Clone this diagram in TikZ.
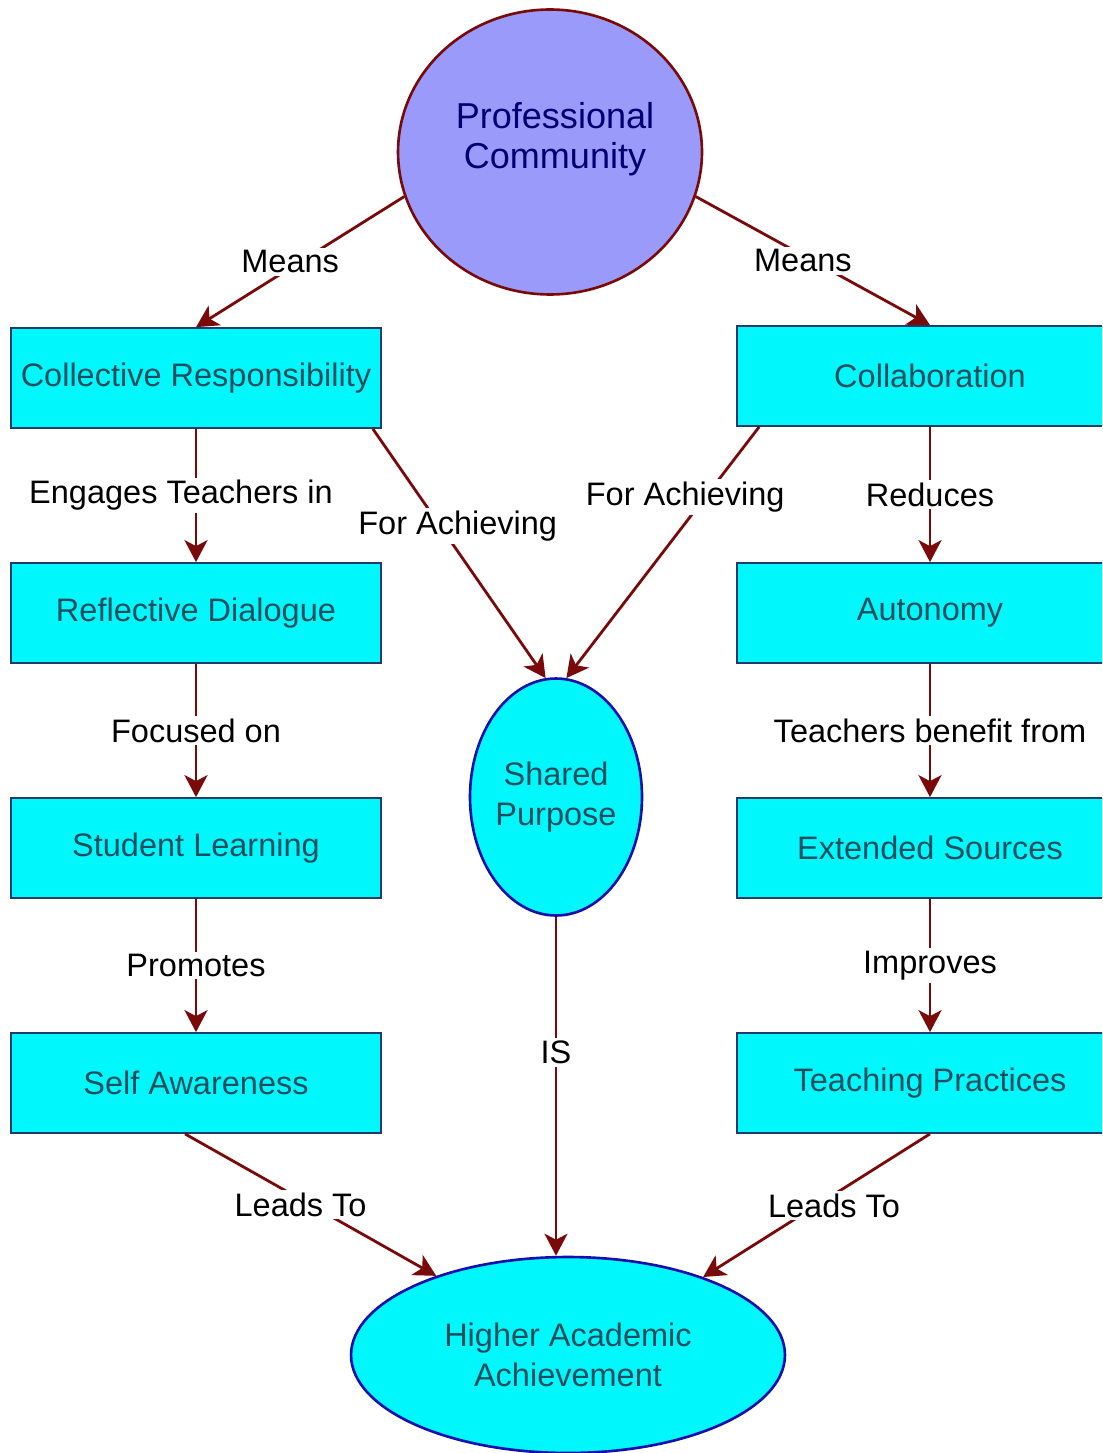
\documentclass[tikz,border=0pt]{standalone}
\usepackage{fontspec}
\setmainfont{Liberation Sans}
\usetikzlibrary{arrows.meta,shapes.geometric,positioning,calc}
\definecolor{arrowred}{HTML}{7A0A0A}
\definecolor{boxcyan}{HTML}{00F8FC}
\definecolor{pcblue}{HTML}{9A9AFA}
\definecolor{boxtext}{HTML}{1A4E5E}
\definecolor{boxline}{HTML}{1C3C6C}
\definecolor{ovalline}{HTML}{1010B0}

\begin{document}
\begin{tikzpicture}[x=0.02cm, y=-0.02cm,
    font=\fontsize{18.5}{22.5}\selectfont,
    box/.style={draw=boxline, line width=1pt, fill=boxcyan, text=boxtext,
                minimum width=7.4cm, minimum height=2cm, inner sep=0pt},
    rbox/.style={box, minimum width=7.72cm},
    oval/.style={ellipse, draw=ovalline, line width=1.5pt, fill=boxcyan,
                 text=boxtext, align=center, inner sep=0pt},
    link/.style={draw=arrowred, line width=1.6pt,
                 -{Stealth[length=0.44cm, width=0.46cm, inset=0.12cm]}},
    lbl/.style={fill=white, text=black, inner sep=1.5pt}]

  \clip (0,0) rectangle (1102,1453);
  \fill[white] (0,0) rectangle (1102,1453);

  %% Top
  \node[ellipse, draw=arrowred, line width=1.5pt, fill=pcblue,
        minimum width=6.08cm, minimum height=5.7cm] (pc) at (550,152) {};
  \node[text=blue!45!black, align=center,
        font=\fontsize{20.5}{22.5}\selectfont] (pctxt) at (555,139)
    {Professional\\Community};

  %% Left column
  \node[box] (cr) at (196,378)  {Collective Responsibility};
  \node[box] (rd) at (196,613)  {Reflective Dialogue};
  \node[box] (sl) at (196,848)  {Student Learning};
  \node[box] (sa) at (196,1083) {Self Awareness};

  %% Right column
  \node[rbox] (collab) at (930,376)  {Collaboration};
  \node[rbox] (auto)   at (930,613)  {Autonomy};
  \node[rbox] (es)     at (930,848)  {Extended Sources};
  \node[rbox] (tp)     at (930,1083) {Teaching Practices};

  %% Middle
  \node[oval, minimum width=3.44cm, minimum height=4.74cm] (sp) at (556,797)
    {Shared\\Purpose};
  \node[oval, minimum width=8.68cm, minimum height=3.92cm] (haa) at (568,1355)
    {Higher Academic\\Achievement};

  %% Links
  \draw[link] (pc.197) -- node[lbl, xshift=-0.2cm] {Means} (cr.north);
  \draw[link] (pc.343) -- node[lbl, xshift=-0.2cm] {Means} (collab.north);

  \draw[link] (cr) -- node[lbl, xshift=-0.3cm] {Engages Teachers in} (rd);
  \draw[link] (rd) -- node[lbl] {Focused on} (sl);
  \draw[link] (sl) -- node[lbl] {Promotes} (sa);

  \draw[link] (collab) -- node[lbl] {Reduces} (auto);
  \draw[link] (auto) -- node[lbl] {Teachers benefit from} (es);
  \draw[link] (es) -- node[lbl] {Improves} (tp);

  \draw[link] ($(cr.south east)+(-9,0)$) -- node[lbl, pos=0.39, xshift=0.35cm] {For Achieving} (sp.95);
  \draw[link] ($(collab.south west)+(23,0)$) -- node[lbl, pos=0.28, xshift=-0.4cm] {For Achieving} (sp.85);

  \draw[link] (sp.south) -- node[lbl, pos=0.4] {IS} (sp.south |- haa.north);
  \draw[link] ($(sa.south)+(-11,0)$) -- node[lbl, xshift=-0.2cm] {Leads To} (haa.149);
  \draw[link] (tp.south) -- node[lbl, xshift=0.35cm] {Leads To} (haa.30);
\end{tikzpicture}
\end{document}
